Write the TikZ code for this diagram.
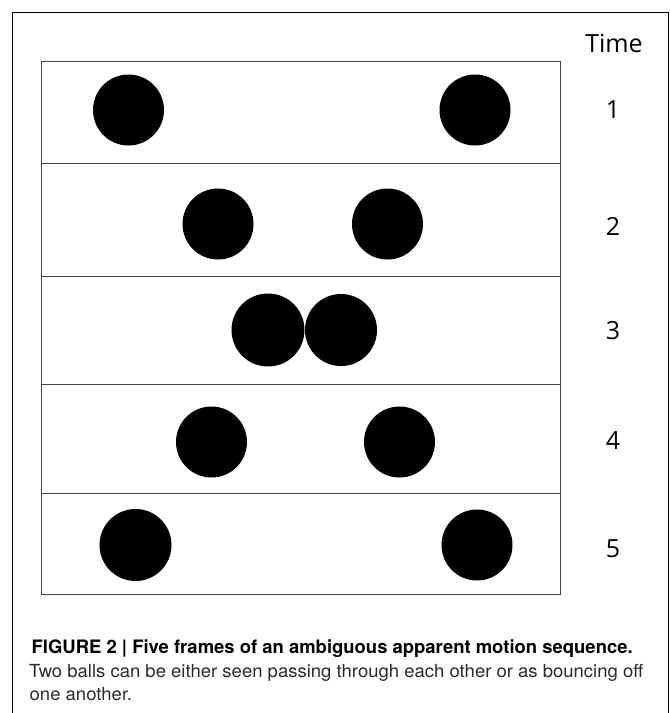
\documentclass[tikz,border=0pt]{standalone}
\usepackage{fontspec}
\usepackage{graphicx}
\setmainfont{TeX Gyre Heros}
\newfontfamily\labelfont{Open Sans}
\definecolor{framegray}{HTML}{444444}
\definecolor{captext}{HTML}{2A2A2A}
\newlength\caplenA
\newlength\caplenB
\newcommand\capTextA{\fontsize{18.5}{22}\selectfont\bfseries FIGURE 2 | Five frames of an ambiguous apparent motion sequence.}
\newcommand\capTextB{\fontsize{18}{22}\selectfont Two balls can be either seen passing through each other or as bouncing off}
\AtBeginDocument{%
  \sbox0{\capTextA}\global\caplenA=\wd0
  \sbox0{\capTextB}\global\caplenB=\wd0
  \pgfmathsetmacro\capSA{601/\caplenA}\global\let\capSA\capSA
  \pgfmathsetmacro\capSB{614/\caplenB}\global\let\capSB\capSB}
\begin{document}
\begin{tikzpicture}[x=1pt,y=-1pt,
  framebox/.style={draw=framegray,line width=1.4pt,minimum width=519pt,inner sep=0pt,anchor=north west},
  ball/.style={circle,fill=black,minimum size=71pt,inner sep=0pt},
  tlabel/.style={font=\labelfont\fontsize{25}{30}\selectfont,anchor=base,inner sep=0pt},
  capline/.style={anchor=base west,inner sep=0pt}]
\useasboundingbox (0,0) rectangle (670,713);
\draw[black,line width=1pt] (12,730) -- (12,12) -- (668,12) -- (668,730);
% frames
\node[framebox,minimum height=102pt] (f1) at (41,61) {};
\node[framebox,minimum height=113pt] (f2) at (41,163) {};
\node[framebox,minimum height=108pt] (f3) at (41,276) {};
\node[framebox,minimum height=109pt] (f4) at (41,384) {};
\node[framebox,minimum height=101pt] (f5) at (41,493) {};
% balls
\node[ball] (b1l) at (128.5,110) {};
\node[ball] (b1r) at (475,110) {};
\node[ball] (b2l) at (218,224) {};
\node[ball] (b2r) at (387.5,224) {};
\node[ball,minimum size=73pt] (b3l) at (268,330) {};
\node[ball,minimum size=72pt] (b3r) at (341,330) {};
\node[ball] (b4l) at (211.5,442) {};
\node[ball] (b4r) at (399.5,442) {};
\node[ball,minimum size=72pt] (b5l) at (135.5,545) {};
\node[ball] (b5r) at (477,545) {};
% labels
\node[tlabel] (time) at (614,52) {Time};
\node[tlabel] (t1) at (613,118) {1};
\node[tlabel] (t2) at (613,235) {2};
\node[tlabel] (t3) at (613,339) {3};
\node[tlabel] (t4) at (613,449) {4};
\node[tlabel] (t5) at (613,557) {5};
% caption
\node[capline] (cap1) at (31.5,653) {\scalebox{\capSA}[1]{\capTextA}};
\node[capline,text=captext] (cap2) at (29,677.5) {\scalebox{\capSB}[1]{\capTextB}};
\node[capline,text=captext] (cap3) at (29.5,700) {\scalebox{\capSB}[1]{\fontsize{18}{22}\selectfont one another.}};
\end{tikzpicture}
\end{document}
